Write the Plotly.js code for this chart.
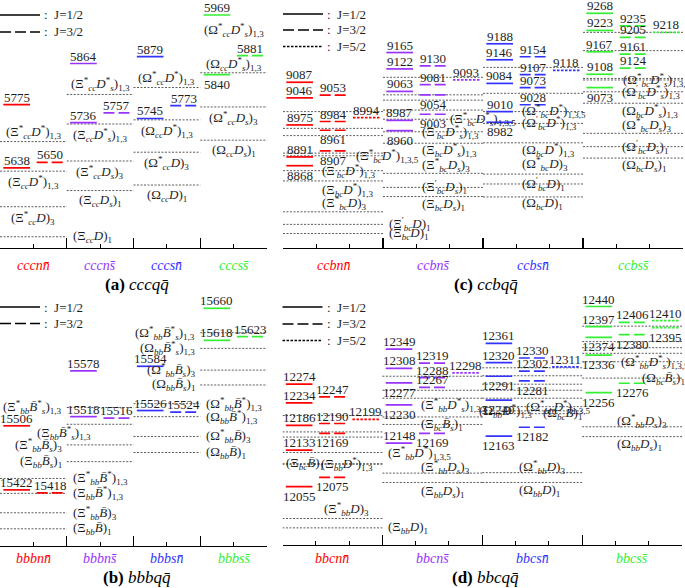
<!DOCTYPE html>
<html><head><meta charset="utf-8">
<script src="https://cdn.plot.ly/plotly-3.0.1.min.js"></script>
<style>html,body{margin:0;padding:0;background:#fff}#plot{width:685px;height:588px}</style>
</head><body><div id="plot"></div>
<script>
// ===================== DATA =====================
// level = [group index, 2J, mass (MeV)]
// threshold = [group index, mass (MeV), label]

// ---- (a) cccqq̄ ----
const aCats = ['cccnn\u0304','cccns\u0304','cccsn\u0304','cccss\u0304'];
const aLevels = [
  [0,1,5775],[0,1,5638],[0,3,5650],
  [1,1,5864],[1,1,5736],[1,3,5757],
  [2,1,5879],[2,1,5745],[2,3,5773],
  [3,1,5969],[3,1,5840],[3,3,5881]];
const aBelow = ['3:5840'];
const aThr = [
  [0,5695,"(Ξ*_{cc}D*)_{1,3}"],[0,5631,"(Ξ_{cc}D*)_{1,3}"],[0,5554,"(Ξ*_{cc}D)_{3}"],[0,5489,"(Ξ_{cc}D)_{1}"],
  [1,5797,"(Ξ*_{cc}D*_{s})_{1,3}"],[1,5733,"(Ξ_{cc}D*_{s})_{1,3}"],[1,5653,"(Ξ*_{cc}D_{s})_{3}"],[1,5589,"(Ξ_{cc}D_{s})_{1}"],
  [2,5812,"(Ω*_{cc}D*)_{1,3}"],[2,5742,"(Ω_{cc}D*)_{1,3}"],[2,5672,"(Ω*_{cc}D)_{3}"],[2,5601,"(Ω_{cc}D)_{1}"],
  [3,5936,"(Ω*_{cc}D*_{s})_{1,3}"],[3,5844,"(Ω_{cc}D*_{s})_{1,3}"],[3,5770,"(Ω*_{cc}D_{s})_{3}"],[3,5698,"(Ω_{cc}D_{s})_{1}"]];

// ---- (b) bbbqq̄ ----
const bCats = ['bbbnn\u0304','bbbns\u0304','bbbsn\u0304','bbbss\u0304'];
const bLevels = [
  [0,1,15506],[0,1,15422],[0,3,15418],
  [1,1,15578],[1,1,15518],[1,3,15516],
  [2,1,15584],[2,1,15526],[2,3,15524],
  [3,1,15660],[3,1,15618],[3,3,15623]];
const bBelow = [];
const bThr = [
  [0,15437,"(Ξ*_{bb}Bb*)_{1,3}"],[0,15417.5,"(Ξ_{bb}Bb*)_{1,3}"],[0,15392,"(Ξ*_{bb}Bb)_{3}"],[0,15371,"(Ξ_{bb}Bb)_{1}"],
  [1,15530,"(Ξ*_{bb}Bb*_{s})_{1,3}"],[1,15508,"(Ξ_{bb}Bb*_{s})_{1,3}"],[1,15481,"(Ξ*_{bb}Bb_{s})_{3}"],[1,15459,"(Ξ_{bb}Bb_{s})_{1}"],
  [2,15535,"(Ω*_{bb}Bb*)_{1,3}"],[2,15518,"(Ω_{bb}Bb*)_{1,3}"],[2,15492,"(Ω*_{bb}Bb)_{3}"],[2,15471,"(Ω_{bb}Bb)_{1}"],
  [3,15628,"(Ω*_{bb}Bb*_{s})_{1,3}"],[3,15607.5,"(Ω_{bb}Bb*_{s})_{1,3}"],[3,15579,"(Ω*_{bb}Bb_{s})_{3}"],[3,15559.5,"(Ω_{bb}Bb_{s})_{1}"]];

// ---- (c) ccbqq̄ ----
const cCats = ['ccbnn\u0304','ccbns\u0304','ccbsn\u0304','ccbss\u0304'];
const cLevels = [
  [0,1,9087],[0,1,9046],[0,1,8975],[0,1,8891],[0,1,8868],[0,3,9053],[0,3,8984],[0,3,8961],[0,3,8907],[0,5,8994],
  [1,1,9165],[1,1,9122],[1,1,9063],[1,1,8987],[1,1,8960],[1,3,9130],[1,3,9081],[1,3,9054],[1,3,9003],[1,5,9093],
  [2,1,9188],[2,1,9146],[2,1,9084],[2,1,9010],[2,1,8982],[2,3,9154],[2,3,9107],[2,3,9073],[2,3,9028],[2,5,9118],
  [3,1,9268],[3,1,9223],[3,1,9167],[3,1,9108],[3,1,9073],[3,3,9235],[3,3,9205],[3,3,9161],[3,3,9124],[3,5,9218]];
const cBelow = ['0:8868','0:8961','0:8907','1:8960','1:9054','1:9003','2:8982','3:9073'];
const cThr = [
  [0,9010,""],[0,8966,""],[0,8947,""],[0,8901,""],[0,8894,"(Ξ*_{bc}D*)_{1,3,5}"],[0,8855,"(Ξ'_{bc}D*)_{1,3}"],
  [0,8828,"(Ξ_{bc}D*)_{1,3}"],[0,8747,"(Ξ*_{bc}D)_{3}"],[0,8714,"(Ξ'_{bc}D)_{1}"],[0,8690,"(Ξ_{bc}D)_{1}"],
  [1,9100,""],[1,9054,""],[1,9040,""],[1,9014,""],[1,8990,"(Ξ*_{bc}D*_{s})_{1,3,5}"],[1,8957,"(Ξ'_{bc}D*_{s})_{1,3}"],
  [1,8927,"(Ξ_{bc}D*_{s})_{1,3}"],[1,8848,"(Ξ*_{bc}D_{s})_{3}"],[1,8811,"(Ξ'_{bc}D_{s})_{1}"],[1,8787,"(Ξ_{bc}D_{s})_{1}"],
  [2,9126,""],[2,9058,""],[2,9010,"(Ω*_{bc}D*)_{1,3,5}"],[2,8979,"(Ω'_{bc}D*)_{1,3}"],[2,8928,"(Ω_{bc}D*)_{1,3}"],
  [2,8846,"(Ω*_{bc}D)_{3}"],[2,8820,"(Ω'_{bc}D)_{1}"],[2,8786,"(Ω_{bc}D)_{1}"],
  [3,9218,""],[3,9170,""],[3,9097,""],[3,9093,"(Ω*_{bc}D*_{s})_{1,3,5}"],[3,9062,"(Ω'_{bc}D*_{s})_{1,3}"],
  [3,9032,"(Ω_{bc}D*_{s})_{1,3}"],[3,8953,"(Ω*_{bc}D_{s})_{3}"],[3,8918,"(Ω'_{bc}D_{s})_{1}"],[3,8888,"(Ω_{bc}D_{s})_{1}"]];

// ---- (d) bbcqq̄ ----
const dCats = ['bbcnn\u0304','bbcns\u0304','bbcsn\u0304','bbcss\u0304'];
const dLevels = [
  [0,1,12274],[0,1,12234],[0,1,12186],[0,1,12133],[0,1,12055],[0,3,12247],[0,3,12190],[0,3,12169],[0,3,12075],[0,5,12199],
  [1,1,12349],[1,1,12308],[1,1,12277],[1,1,12230],[1,1,12148],[1,3,12319],[1,3,12288],[1,3,12267],[1,3,12169],[1,5,12298],
  [2,1,12361],[2,1,12320],[2,1,12291],[2,1,12240],[2,1,12163],[2,3,12330],[2,3,12302],[2,3,12281],[2,3,12182],[2,5,12311],
  [3,1,12440],[3,1,12397],[3,1,12374],[3,1,12336],[3,1,12256],[3,3,12406],[3,3,12380],[3,3,12276],[3,5,12410],[3,5,12395]];
const dBelow = ['0:12055','0:12169','0:12075','1:12277','1:12230','1:12169','2:12291','2:12240','2:12163','2:12281','2:12182',
  '3:12374','3:12336','3:12256','3:12380','3:12276','3:12395'];
const dThr = [
  [0,12207,""],[0,12172,""],[0,12161,""],[0,12128,"(Ξ*_{bb}D*)_{1,3,5}"],[0,12104,"(Ξ_{bc}Bb)_{1}"],[0,12103,"(Ξ_{bb}D*)_{1,3}"],
  [0,11987,"(Ξ*_{bb}D)_{3}"],[0,11967,"(Ξ_{bb}D)_{1}"],
  [1,12291,""],[1,12261,""],[1,12244,"(Ξ*_{bb}D*_{s})_{1,3,5}"],[1,12204,""],[1,12188,"(Ξ_{bc}Bb_{s})_{1}"],
  [1,12084,"(Ξ*_{bb}D_{s})_{3}"],[1,12064,"(Ξ_{bb}D_{s})_{1}"],
  [2,12309,""],[2,12292,""],[2,12274,""],[2,12261,""],[2,12244,""],[2,12226,"(Ω*_{bb}D*)_{1,3,5}"],
  [2,12217,"(Ω_{bb}D*)_{1,3}"],[2,12211,"(Ω_{bc}Bb)_{1}"],[2,12085,"(Ω*_{bb}D)_{3}"],[2,12064,"(Ω_{bb}D)_{1}"],
  [3,12398,""],[3,12365,""],[3,12352,""],[3,12340,""],[3,12322,"(Ω*_{bb}D*_{s})_{1,3,5}"],[3,12287,"(Ω_{bc}Bb_{s})_{1}"],
  [3,12183,"(Ω*_{bb}D_{s})_{3}"],[3,12162,"(Ω_{bb}D_{s})_{1}"]];

// ===================== PLACEMENT / STYLE =====================
// threshold label placement: [x mode, y offset px (+ = down)]
// x mode: 'c' centred in group, number = left edge at group start + n units,
//         'r' right of group end, 'l' left of group start
const aPos = [['c',-10],['c',11],['c',11],['r',0],
  ['c',-10],['c',11],['c',11],['c',10],
  ['c',-10],['c',11],['c',11],['c',10],
  ['c',0,'noline'],['c',-9],['c',11],['c',10]];
const bPos = [['r',0],['r',0],['r',0],['r',0],['l',0],[-0.95,9],['l',0],['l',0],
  ['r',0],['r',0],['r',0],['r',0],['l',0],['l',0],['l',0],['l',0]];
const cPos = [null,null,null,null,[2.13,0],[1.1,0],[1.1,9],[1.1,-9],['r',0],['r',0],
  null,null,null,null,[1.95,0],[1.1,0],[1.1,7],[1.1,-8],[1.1,0],[1.1,8],
  null,null,[1.1,-1],[1.1,0],[1.1,7],[1.1,-10],[1.1,0],[1.1,7],
  null,null,null,[1.15,0],[1.1,0],[1.1,8],[1.1,-8],[1.1,0],[1.1,7]];
const dPos = [null,null,null,['r',0],[0.05,0],[1.1,0],[1.2,-10],['r',0],
  null,null,[1.1,7],null,[1.1,0],[1.1,-6],[1.1,9],
  null,null,null,null,null,[1.25,0],[-0.15,0],[1.75,0],[1.05,-6],[1.05,8],
  null,null,null,null,[1.1,0],[1.75,0],[1.0,-6],[1.0,8]];

const COLORS = ['#ff0000','#9933ff','#3333ff','#33f033'];
const FONT = 'Liberation Serif, Times New Roman, serif';
const FW = 685, FH = 588;
const panels = [
  {id:'a', cats:aCats, lv:aLevels, below:aBelow, thr:aThr, pos:aPos, W:2, ax:'x', ay:'y',
   g:{x0:0, x1:267, top:0, base:247.5, E0:5969, y0:15, s:0.462}, catY:266, title:'<b>(a)</b> <i>cccqq\u0304</i>', titleY:285, legY:[15,32]},
  {id:'b', cats:bCats, lv:bLevels, below:bBelow, thr:bThr, pos:bPos, W:2, ax:'x2', ay:'y2',
   g:{x0:0, x1:267, top:290, base:546, E0:15660, y0:308.3, s:0.763}, catY:558, title:'<b>(b)</b> <i>bbbqq\u0304</i>', titleY:577, legY:[307,323.5]},
  {id:'c', cats:cCats, lv:cLevels, below:cBelow, thr:cThr, pos:cPos, W:3, ax:'x3', ay:'y3',
   g:{x0:283, x1:683, top:0, base:248, E0:9268, y0:13.3, s:0.381}, catY:266, title:'<b>(c)</b> <i>ccbqq\u0304</i>', titleY:285, legY:[14,30,46.5]},
  {id:'d', cats:dCats, lv:dLevels, below:dBelow, thr:dThr, pos:dPos, W:3, ax:'x4', ay:'y4',
   g:{x0:282.5, x1:682, top:290, base:545, E0:12440, y0:306.5, s:0.468}, catY:558, title:'<b>(d)</b> <i>bbcqq\u0304</i>', titleY:577, legY:[307,324,340.5]}
];

function tex(s){
  s = s.replace(/_\{([^}]*)\}/g, (m,g)=>'<sub>'+(/^[a-z]+$/.test(g)?'<i>'+g+'</i>':g)+'</sub>');
  s = s.replace(/\*/g,'<sup>*</sup>');
  s = s.replace(/'/g,'<sup>\u2032</sup>');
  s = s.replace(/Bb/g,'<i>B\u0304</i>');
  s = s.replace(/D/g,'<i>D</i>');
  return s;
}
const DASH = {1:'solid', 3:'11px,4px', 5:'2.5px,1.5px'};

const traces = [], annotations = [], shapes = [], layout = {};
panels.forEach(P => {
  const G = P.g, W = P.W;
  const yr = [G.E0 - (G.base - G.y0)/G.s, G.E0 + (G.y0 - G.top)/G.s];
  const xk = P.ax === 'x' ? 'xaxis' : 'xaxis' + P.ax.slice(1);
  const yk = P.ay === 'y' ? 'yaxis' : 'yaxis' + P.ay.slice(1);
  const nMaj = [], nMin = [];
  for (let g = 0; g <= 4; g++) nMaj.push(g*W);
  for (let u = 0; u <= 4*W; u++) if (u % W) nMin.push(u);
  layout[xk] = {domain:[G.x0/FW, G.x1/FW], range:[0, 4*W], anchor:P.ay, showgrid:false, zeroline:false,
    showline:true, linecolor:'#000', linewidth:1.3, ticks:'inside', tickvals:nMaj, ticklen:10, tickwidth:1.2,
    tickcolor:'#000', showticklabels:false, fixedrange:true,
    minor:{tickvals:nMin, ticks:'inside', ticklen:4, tickwidth:1, tickcolor:'#000'}};
  layout[yk] = {domain:[1-G.base/FH, 1-G.top/FH], range:yr, anchor:P.ax, visible:false, fixedrange:true};

  // thresholds
  const tx = [], ty = [];
  P.thr.forEach((t,i) => {
    const [g, E, lab] = t; const pos = P.pos[i];
    if (!(pos && pos[2] === 'noline')) { tx.push(g*W, (g+1)*W, null); ty.push(E, E, null); }
    if (lab && pos) {
      let x, xa = 'left', xs = 0;
      if (pos[0] === 'c') { x = g*W + W/2; xa = 'center'; }
      else if (pos[0] === 'r') { x = (g+1)*W; xs = 4; }
      else if (pos[0] === 'l') { x = g*W; xa = 'right'; xs = -3; }
      else x = g*W + pos[0];
      annotations.push({xref:P.ax, yref:P.ay, x:x, y:E, xanchor:xa, yanchor:'middle', xshift:xs, yshift:-pos[1],
        text:tex(lab), showarrow:false, font:{family:FONT, size:13, color:'#1e1e1e'}});
    }
  });
  traces.push({type:'scatter', mode:'lines', xaxis:P.ax, yaxis:P.ay, x:tx, y:ty, hoverinfo:'skip',
    line:{color:'#333', width:0.8, dash:'2px,1.5px'}, connectgaps:false});

  // levels
  for (let g = 0; g < 4; g++) {
    [1,3,5].forEach(J => {
      const col = (J-1)/2; const lx = [], ly = [];
      P.lv.filter(l => l[0] === g && l[1] === J).forEach(l => {
        lx.push(g*W + col + 0.1, g*W + col + 0.9, null); ly.push(l[2], l[2], null);
        const below = P.below.indexOf(g + ':' + l[2]) >= 0;
        annotations.push({xref:P.ax, yref:P.ay, x:g*W + col + 0.5, y:l[2], xanchor:'center', yanchor:'middle',
          yshift: below ? -9.5 : 7.5, text:String(l[2]), showarrow:false, font:{family:FONT, size:13, color:'#1e1e1e'}});
      });
      if (lx.length) traces.push({type:'scatter', mode:'lines', xaxis:P.ax, yaxis:P.ay, x:lx, y:ly, hoverinfo:'skip',
        line:{color:COLORS[g], width:1.7, dash:DASH[J]}, connectgaps:false});
    });
    annotations.push({xref:P.ax, yref:'paper', x:g*W + W/2, y:1 - P.catY/FH, xanchor:'center', yanchor:'middle',
      text:'<i>' + P.cats[g] + '</i>', showarrow:false, font:{family:FONT, size:14, color:COLORS[g]}});
  }
  // title
  annotations.push({xref:'paper', yref:'paper', x:(G.x0 + G.x1)/2/FW + 3/FW, y:1 - P.titleY/FH, xanchor:'center',
    yanchor:'middle', text:P.title, showarrow:false, font:{family:FONT, size:17, color:'#000'}});
  // legend
  const legTxt = ['J=1/2','J=3/2','J=5/2'], legDash = ['solid','11px,4px','2.5px,1.5px'];
  P.legY.forEach((y,i) => {
    shapes.push({type:'line', xref:'paper', yref:'paper', x0:G.x0/FW, x1:(G.x0+40)/FW, y0:1-y/FH, y1:1-y/FH,
      line:{color:'#000', width:1.3, dash:legDash[i]}});
    annotations.push({xref:'paper', yref:'paper', x:(G.x0+42)/FW, y:1-y/FH, xanchor:'left', yanchor:'middle',
      text:':  ' + legTxt[i], showarrow:false, font:{family:FONT, size:13, color:'#1e1e1e'}});
  });
});

Object.assign(layout, {width:FW, height:FH, margin:{l:0,r:0,t:0,b:0}, showlegend:false,
  paper_bgcolor:'#fff', plot_bgcolor:'#fff', annotations:annotations, shapes:shapes, hovermode:false});
Plotly.newPlot('plot', traces, layout, {staticPlot:true, displayModeBar:false});
</script></body></html>
